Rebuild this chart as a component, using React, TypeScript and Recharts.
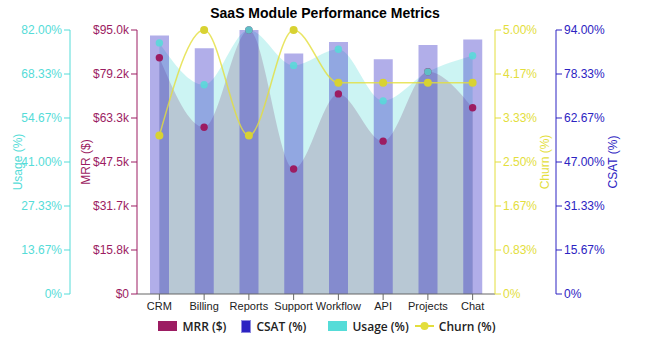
import {
  ComposedChart,
  Area,
  Bar,
  Line,
  XAxis,
  YAxis,
  Legend,
} from "recharts";

const modules = ["CRM", "Billing", "Reports", "Support", "Workflow", "API", "Projects", "Chat"];
const mrr = [85000, 60000, 95000, 45000, 72000, 55000, 80000, 67000];
const csat = [92, 87.5, 94, 85.6, 89.7, 83.6, 88.7, 90.6];
const usage = [78, 65, 82, 71, 76, 60, 69, 74];
const churn = [3.0, 5.0, 3.0, 5.0, 4.0, 4.0, 4.0, 4.0];

const mrrTicks = [0, 15833.33, 31666.67, 47500, 63333.33, 79166.67, 95000];
const usageTicks = [0, 13.667, 27.333, 41, 54.667, 68.333, 82];
const churnTicks = [0, 0.8333, 1.6667, 2.5, 3.3333, 4.1667, 5];
const csatTicks = [0, 15.667, 31.333, 47, 62.667, 78.333, 94];

const MAROON = "#9c1c62";
const BLUE = "#2c23c2";
const CYAN = "#55dcd8";
const YELLOW = "#e3de3c";

const data = modules.map((name, i) => ({
  name,
  mrr: mrr[i],
  csat: csat[i],
  usage: usage[i],
  churn: churn[i],
}));

const pct = (v: number) => (v === 0 ? "0%" : `${v.toFixed(2)}%`);
const money = (v: number) => (v === 0 ? "$0" : `$${(v / 1000).toFixed(1)}k`);

function ChartLegend() {
  const txt = { fontFamily: '"Open Sans", sans-serif', fontWeight: 600, fontSize: 12, color: "#222" };
  return (
    <div style={{ display: "flex", justifyContent: "center", alignItems: "center", height: 20, marginLeft: 19 }}>
      <span style={{ width: 19, height: 10, background: MAROON, display: "inline-block", marginRight: 5 }} />
      <span style={txt}>MRR ($)</span>
      <span style={{ width: 8, height: 11, background: BLUE, border: "1px solid #8f8ae0", display: "inline-block", marginLeft: 15, marginRight: 5 }} />
      <span style={txt}>CSAT (%)</span>
      <span style={{ width: 19, height: 10, background: CYAN, display: "inline-block", marginLeft: 22, marginRight: 5 }} />
      <span style={txt}>Usage (%)</span>
      <svg width={19} height={10} style={{ marginLeft: 6, marginRight: 5 }}>
        <line x1={0} y1={5} x2={19} y2={5} stroke={YELLOW} strokeWidth={2} />
        <circle cx={9.5} cy={5} r={4} fill={YELLOW} />
      </svg>
      <span style={txt}>Churn (%)</span>
    </div>
  );
}

export default function App() {
  return (
    <div style={{ position: "absolute", left: 0, top: 0, width: 650, height: 348, fontFamily: '"Liberation Sans", Arial, sans-serif' }}>
      <div style={{ position: "absolute", left: 0, top: 5, width: 650, textAlign: "center", fontWeight: "bold", fontSize: 14, color: "#000" }}>
        SaaS Module Performance Metrics
      </div>
      <ComposedChart width={650} height={348} data={data} margin={{ top: 30, right: 20, bottom: 12, left: 5 }}>
        <XAxis dataKey="name" height={22} interval={0} stroke="#666" tick={{ fill: "#222", fontSize: 11 }} />
        <YAxis
          yAxisId="mrr"
          width={67}
          domain={[0, 95000]}
          ticks={mrrTicks}
          tickFormatter={money}
          stroke={MAROON}
          tick={{ fill: MAROON, fontSize: 12 }}
          label={{ value: "MRR ($)", angle: -90, position: "insideLeft", offset: 16, fill: MAROON, fontSize: 12, style: { textAnchor: "middle" } }}
        />
        <YAxis
          yAxisId="usage"
          width={65}
          domain={[0, 82]}
          ticks={usageTicks}
          tickFormatter={pct}
          stroke={CYAN}
          tick={{ fill: CYAN, fontSize: 12 }}
          label={{ value: "Usage (%)", angle: -90, position: "insideLeft", offset: 13, fill: CYAN, fontSize: 12, style: { textAnchor: "middle" } }}
        />
        <YAxis
          yAxisId="churn"
          orientation="right"
          width={61}
          domain={[0, 5]}
          ticks={churnTicks}
          tickFormatter={pct}
          stroke={YELLOW}
          tick={{ fill: YELLOW, fontSize: 12 }}
          label={{ value: "Churn (%)", angle: -90, position: "insideRight", offset: 11, fill: YELLOW, fontSize: 12, style: { textAnchor: "middle" } }}
        />
        <YAxis
          yAxisId="csat"
          orientation="right"
          width={74}
          domain={[0, 94]}
          ticks={csatTicks}
          tickFormatter={pct}
          stroke={BLUE}
          tick={{ fill: BLUE, fontSize: 12 }}
          label={{ value: "CSAT (%)", angle: -90, position: "insideRight", offset: 17, fill: BLUE, fontSize: 12, style: { textAnchor: "middle" } }}
        />
        <Legend verticalAlign="bottom" content={<ChartLegend />} />
        <Area
          yAxisId="mrr"
          type="monotone"
          dataKey="mrr"
          name="MRR ($)"
          fill={MAROON}
          fillOpacity={0.28}
          stroke="none"
          dot={{ r: 3.7, fill: MAROON, stroke: "none", fillOpacity: 1 }}
          isAnimationActive={false}
        />
        <Area
          yAxisId="usage"
          type="monotone"
          dataKey="usage"
          name="Usage (%)"
          fill={CYAN}
          fillOpacity={0.3}
          stroke="none"
          dot={{ r: 3.7, fill: CYAN, stroke: "none", fillOpacity: 0.85 }}
          isAnimationActive={false}
        />
        <Bar yAxisId="csat" dataKey="csat" name="CSAT (%)" barSize={19} fill={BLUE} fillOpacity={0.37} isAnimationActive={false} />
        <Line
          yAxisId="churn"
          type="monotone"
          dataKey="churn"
          name="Churn (%)"
          stroke={YELLOW}
          strokeOpacity={0.8}
          strokeWidth={1.5}
          dot={{ r: 4, fill: "#d8d232", stroke: "none" }}
          isAnimationActive={false}
        />
      </ComposedChart>
    </div>
  );
}
